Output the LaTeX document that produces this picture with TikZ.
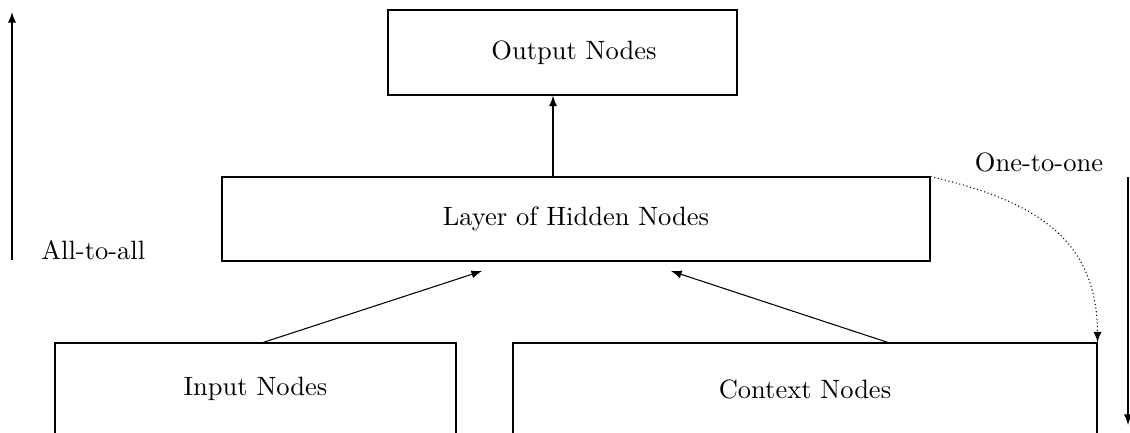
\documentclass[tikz,border=0pt]{standalone}
\usetikzlibrary{arrows}
\begin{document}
\begin{tikzpicture}[x=0.3774pt, y=-0.3774pt,
  box/.style={draw, rectangle, inner sep=0pt},
  arr/.style={-latex, thin},
  dotarr/.style={-latex, densely dotted, thin}]
\useasboundingbox (0,0) rectangle (1130,432);

% layers of the network
\node[box, minimum width=349*0.3774pt, minimum height=85*0.3774pt] (output) at (562.5,52.5) {};
\node (outputText) at (574,52.5) {Output Nodes};
\node[box, minimum width=708*0.3774pt, minimum height=84*0.3774pt] (hidden) at (576,219) {Layer of Hidden Nodes};
\node[box, minimum width=401*0.3774pt, minimum height=92*0.3774pt] (input) at (255.5,389) {Input Nodes};
\node[box, minimum width=584*0.3774pt, minimum height=92*0.3774pt] (context) at (805,389) {Context Nodes};

% free ends of the connectors
\coordinate (inEnd) at (482,271);
\coordinate (ctxEnd) at (671,271);
\coordinate (upBot) at (12,260);
\coordinate (upTop) at (12,12);
\coordinate (downTop) at (1128,177);
\coordinate (downBot) at (1128,425);

% connections between layers
\draw[arr] (hidden.north -| 553,0) -- (output.south -| 553,0);
\draw[arr] (input.north -| 263,0) -- (inEnd);
\draw[arr] (context.north -| 888,0) -- (ctxEnd);
\draw[dotarr] (hidden.north east) .. controls (1030,200) and (1097,235) .. (context.north east);

% direction markers
\draw[arr] (upBot) -- (upTop);
\draw[arr] (downTop) -- (downBot);
\node[anchor=west] (alltoall) at (32,250) {All-to-all};
\node (onetoone) at (1039,162) {One-to-one};
\end{tikzpicture}
\end{document}
